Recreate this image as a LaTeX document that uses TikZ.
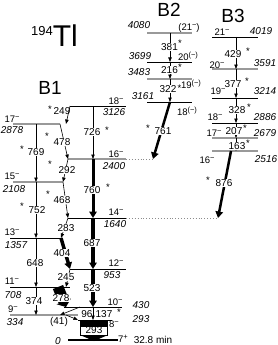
\documentclass[tikz,border=0pt]{standalone}
\usepackage{fontspec}
\setmainfont{Liberation Sans}
\usetikzlibrary{arrows.meta}
\tikzset{
  lvl/.style={line width=0.7pt},
  glvl/.style={line width=1.3pt, draw=black!40},
  gndl/.style={line width=1.8pt},
  dotl/.style={line width=0.9pt, draw=black!45, dotted},
  tr/.style={line width=0.6pt, -{Triangle[length=4.5pt,width=3.4pt]}},
  thk/.style={line width=#1, -{Triangle[length=6.5pt,width=7.5pt]}},
  tl/.style={fill=white, inner sep=0.6pt, font=\fontsize{10}{11}\selectfont},
  tlo/.style={inner sep=0.6pt, font=\fontsize{10}{11}\selectfont},
  en/.style={inner sep=0pt, font=\fontsize{10}{11}\selectfont\itshape},
  sp/.style={inner sep=0pt, font=\fontsize{9.5}{10}\selectfont},
  st/.style={inner sep=0pt, font=\fontsize{9.5}{10}\selectfont},
  band/.style={inner sep=0pt, font=\fontsize{19}{20}\selectfont},
}
\newcommand{\mysup}[1]{\raisebox{3.2pt}{\fontsize{7.5}{8}\selectfont #1}}
\begin{document}
\begin{tikzpicture}[x=1pt,y=-1pt]
\useasboundingbox (0,0) rectangle (278,345);
% columns
\coordinate (cA) at (36,0);
\coordinate (cB) at (93,0);
\coordinate (cC) at (170,0);
\coordinate (cD) at (236,0);
% B1 left levels
\coordinate (l2878w) at (13,124); \coordinate (l2878e) at (60,124);
\coordinate (l2108w) at (13,182); \coordinate (l2108e) at (63,182);
\coordinate (l1357w) at (10,238); \coordinate (l1357e) at (61,238);
\coordinate (l708w) at (10,287);  \coordinate (l708e) at (70,287);
\coordinate (l334w) at (10,315);  \coordinate (l334e) at (78,315);
% B1 right levels
\coordinate (l3126w) at (70,106); \coordinate (l3126e) at (126,106);
\coordinate (l2400w) at (68,159); \coordinate (l2400e) at (126,159); \coordinate (l2400x) at (153,159);
\coordinate (l1640w) at (68,218); \coordinate (l1640e) at (126,218); \coordinate (l1640x) at (218,218);
\coordinate (l953w) at (70,269);  \coordinate (l953e) at (126,269);
\coordinate (l430w) at (64,307);  \coordinate (l430e) at (122,307);
\coordinate (l293w) at (78,320);  \coordinate (l293e) at (112,320);
\coordinate (l0w) at (68,340);    \coordinate (l0e) at (118,340);
% B2 levels
\coordinate (l4080w) at (147,33);  \coordinate (l4080e) at (192,33);
\coordinate (l3699w) at (147,62);  \coordinate (l3699e) at (192,62);
\coordinate (l3483w) at (147,79);  \coordinate (l3483e) at (192,79);
\coordinate (l3161w) at (147,102); \coordinate (l3161e) at (192,102);
% B3 levels
\coordinate (l4019w) at (212,37);  \coordinate (l4019e) at (258,37);
\coordinate (l3591w) at (212,69);  \coordinate (l3591e) at (258,69);
\coordinate (l3214w) at (212,98);  \coordinate (l3214e) at (258,98);
\coordinate (l2886w) at (212,123); \coordinate (l2886e) at (258,123);
\coordinate (l2679w) at (212,138); \coordinate (l2679e) at (258,138);
\coordinate (l2516w) at (212,151); \coordinate (l2516e) at (258,151);
% extra transition ends
\coordinate (a249) at (66,124);
\coordinate (a245) at (66,287);
\coordinate (a278s) at (58,287);
\coordinate (a278t) at (66,307);
\coordinate (a96s) at (80,307);
\coordinate (a96t) at (60,315);
\coordinate (a41s) at (66,315);
\coordinate (a41t) at (78,320);
\coordinate (a876) at (231,151);

% level lines
\draw[glvl] (l2878w) -- (l2878e);
\draw[glvl] (l2108w) -- (l2108e);
\draw[lvl] (l1357w) -- (l1357e);
\draw[lvl] (l708w) -- (l708e);
\draw[glvl] (l334w) -- (l334e);
\draw[lvl] (l3126w) -- (l3126e);
\draw[glvl] (l2400w) -- (l2400e);
\draw[dotl] (l2400e) -- (l2400x);
\draw[lvl] (l1640w) -- (l1640e);
\draw[dotl] (l1640e) -- (l1640x);
\draw[lvl] (l953w) -- (l953e);
\draw[lvl] (l430w) -- (l430e);
\draw[lvl] (l293w) -- (l293e);
\draw[gndl] (l0w) -- (l0e);
\draw[glvl] (l4080w) -- (l4080e);
\draw[lvl] (l3699w) -- (l3699e);
\draw[glvl] (l3483w) -- (l3483e);
\draw[lvl] (l3161w) -- (l3161e);
\draw[lvl] (l4019w) -- (l4019e);
\draw[glvl] (l3591w) -- (l3591e);
\draw[lvl] (l3214w) -- (l3214e);
\draw[lvl] (l2886w) -- (l2886e);
\draw[glvl] (l2679w) -- (l2679e);
\draw[glvl] (l2516w) -- (l2516e);

% transitions B1
\draw[tr] (cA |- l2878w) -- (cA |- l2108w);
\draw[tr] (cA |- l2108w) -- (cA |- l1357w);
\draw[tr] (cA |- l1357w) -- (cA |- l708w);
\draw[tr] (cA |- l708w) -- (cA |- l334w);
\draw[tr] (l3126w) -- (a249);
\draw[tr] (l2878e) -- (l2400w);
\draw[tr] (l2400w) -- (l2108e);
\draw[tr] (l2108e) -- (l1640w);
\draw[tr] (l1640w) -- (l1357e);
\draw[thk=3.5pt] (l1357e) -- (l953w);
\draw[tr] (l953w) -- (a245);
\draw[line width=11pt, -{Triangle[length=6pt,width=15pt]}] (a278s) -- (a278t);
\draw[tr] (cB |- l3126w) -- (cB |- l2400w);
\draw[thk=3pt] (cB |- l2400w) -- (cB |- l1640w);
\draw[thk=4.2pt] (cB |- l1640w) -- (cB |- l953w);
\draw[thk=3.5pt] (cB |- l953w) -- (cB |- l430w);
\draw[tr] (cB |- l430w) -- (cB |- l293w);
\draw[tr] (a96s) -- (a96t);
\draw[tr] (a41s) -- (a41t);
% 293 wide transition
\fill (80,320) rectangle (108,326);
\draw[line width=0.8pt, fill=white] (80.4,326) rectangle (107.6,335);
\fill (80,335) -- (108,335) -- (94,341) -- cycle;
\node[tlo] (t293) at (94,330.5) {293};

% transitions B2
\draw[tr] (cC |- l4080w) -- (cC |- l3699w);
\draw[tr] (cC |- l3699w) -- (cC |- l3483w);
\draw[tr] (cC |- l3483w) -- (cC |- l3161w);
\draw[thk=2.5pt] (cC |- l3161w) -- (l2400x);
% transitions B3
\draw[tr] (cD |- l4019w) -- (cD |- l3591w);
\draw[tr] (cD |- l3591w) -- (cD |- l3214w);
\draw[tr] (cD |- l3214w) -- (cD |- l2886w);
\draw[tr] (cD |- l2886w) -- (cD |- l2679w);
\draw[tr] (cD |- l2679w) -- (cD |- l2516w);
\draw[thk=2.5pt] (a876) -- (l1640x);

% transition labels
\node[tl] (t769) at (36,152) {769}; \node[st] (s769) at (22,149) {*};
\node[tl] (t752) at (37,210) {752}; \node[st] (s752) at (22,206) {*};
\node[tl] (t648) at (35,263) {648};
\node[tl] (t374) at (34,301) {374};
\node[tl] (t478) at (62,142) {478}; \node[st] (s478) at (47,136) {*};
\node[tl] (t292) at (67,170) {292}; \node[st] (s292) at (50,164) {*};
\node[tl] (t468) at (62,200) {468}; \node[st] (s468) at (48,194) {*};
\node[tl] (t283) at (66,228) {283};
\node[tl] (t404) at (62,253) {404};
\node[tl] (t245) at (66,277) {245};
\node[tl] (t278) at (61,298) {278};
\node[tlo] (t249) at (62,111) {249}; \node[st] (s249) at (50,109) {*};
\node[tl] (t726) at (92,132) {726}; \node[st] (s726) at (107,130) {*};
\node[tl] (t760) at (92,190) {760}; \node[st] (s760) at (108,187) {*};
\node[tl] (t687) at (92,243) {687};
\node[tl] (t523) at (92,288) {523};
\node[tlo] (t96) at (87,314) {96};
\node[tlo] (t137) at (104,314) {137}; \node[st] (s137) at (119,312) {*};
\node[tlo] (t41) at (59,322) {(41)};
\node[tl] (t381) at (169.5,47) {381}; \node[st] (s381) at (180,43) {*};
\node[tl] (t216) at (169.5,70) {216}; \node[st] (s216) at (180,67) {*};
\node[tl] (t322) at (168,89) {322}; \node[st] (s322) at (179.5,88) {*};
\node[tl] (t761) at (163,131) {761}; \node[st] (s761) at (148,128) {*};
\node[tl] (t429) at (233,54) {429}; \node[st] (s429) at (248,51) {*};
\node[tl] (t377) at (233,84) {377}; \node[st] (s377) at (247,81) {*};
\node[tl] (t328) at (237,110) {328}; \node[st] (s328) at (249,107) {*};
\node[tl] (t207) at (234,131) {207}; \node[st] (s207) at (245,128) {*};
\node[tl] (t163) at (237,146) {163}; \node[st] (s163) at (248,143) {*};
\node[tl] (t876) at (224,183) {876}; \node[st] (s876) at (208,180) {*};

% spins and energies B1 left
\node[sp] (j2878) at (12,119) {17\mysup{−}}; \node[en] (e2878) at (12,130) {2878};
\node[sp] (j2108) at (12,176) {15\mysup{−}}; \node[en] (e2108) at (14,189) {2108};
\node[sp] (j1357) at (12,232) {13\mysup{−}}; \node[en] (e1357) at (16,245) {1357};
\node[sp] (j708) at (12,281) {11\mysup{−}}; \node[en] (e708) at (13,295) {708};
\node[sp] (j334) at (13,309) {9\mysup{−}}; \node[en] (e334) at (15,322) {334};
% B1 right
\node[sp] (j3126) at (116,101) {18\mysup{−}}; \node[en] (e3126) at (114,112) {3126};
\node[sp] (j2400) at (116,154) {16\mysup{−}}; \node[en] (e2400) at (114,166) {2400};
\node[sp] (j1640) at (116,212) {14\mysup{−}}; \node[en] (e1640) at (115,224) {1640};
\node[sp] (j953) at (116,263) {12\mysup{−}}; \node[en] (e953) at (112,275) {953};
\node[sp] (j430) at (115,302) {10\mysup{−}}; \node[en] (e430) at (141,305) {430};
\node[sp] (j293) at (114,324) {8\mysup{−}}; \node[en] (e293) at (141,319) {293};
\node[en] (e0) at (58,341) {0};
\node[sp] (j0) at (123,339) {7\mysup{+}};
\node[sp, font=\fontsize{10}{11}\selectfont] (hl) at (153,340) {32.8 min};
% B2
\node[en] (e4080) at (139,25) {4080}; \node[sp] (j4080) at (189,28) {(21\mysup{−})};
\node[en] (e3699) at (140,56) {3699}; \node[sp] (j3699) at (188,56) {20\mysup{(−)}};
\node[en] (e3483) at (139,72) {3483}; \node[sp] (j3483) at (191,84) {19\mysup{(−)}};
\node[en] (e3161) at (143,96) {3161}; \node[sp] (j3161) at (187,111) {18\mysup{(−)}};
% B3
\node[sp] (j4019) at (222,32) {21\mysup{−}}; \node[en] (e4019) at (261,31) {4019};
\node[sp] (j3591) at (217,65) {20\mysup{−}}; \node[en] (e3591) at (265,63) {3591};
\node[sp] (j3214) at (218,91) {19\mysup{−}}; \node[en] (e3214) at (265,91) {3214};
\node[sp] (j2886) at (215,117) {18\mysup{−}}; \node[en] (e2886) at (265,117) {2886};
\node[sp] (j2679) at (214,133) {17\mysup{−}}; \node[en] (e2679) at (265,133) {2679};
\node[sp] (j2516) at (207,160) {16\mysup{−}}; \node[en] (e2516) at (266,159) {2516};

% titles
\node[inner sep=0pt, anchor=base west] (title) at (31,47) {\raisebox{11pt}{\fontsize{13}{14}\selectfont 194}\fontsize{30}{30}\selectfont Tl};
\node[band] (b1) at (50,88) {B1};
\node[band] (b2) at (169,10) {B2};
\node[band] (b3) at (233,16) {B3};
\end{tikzpicture}
\end{document}
